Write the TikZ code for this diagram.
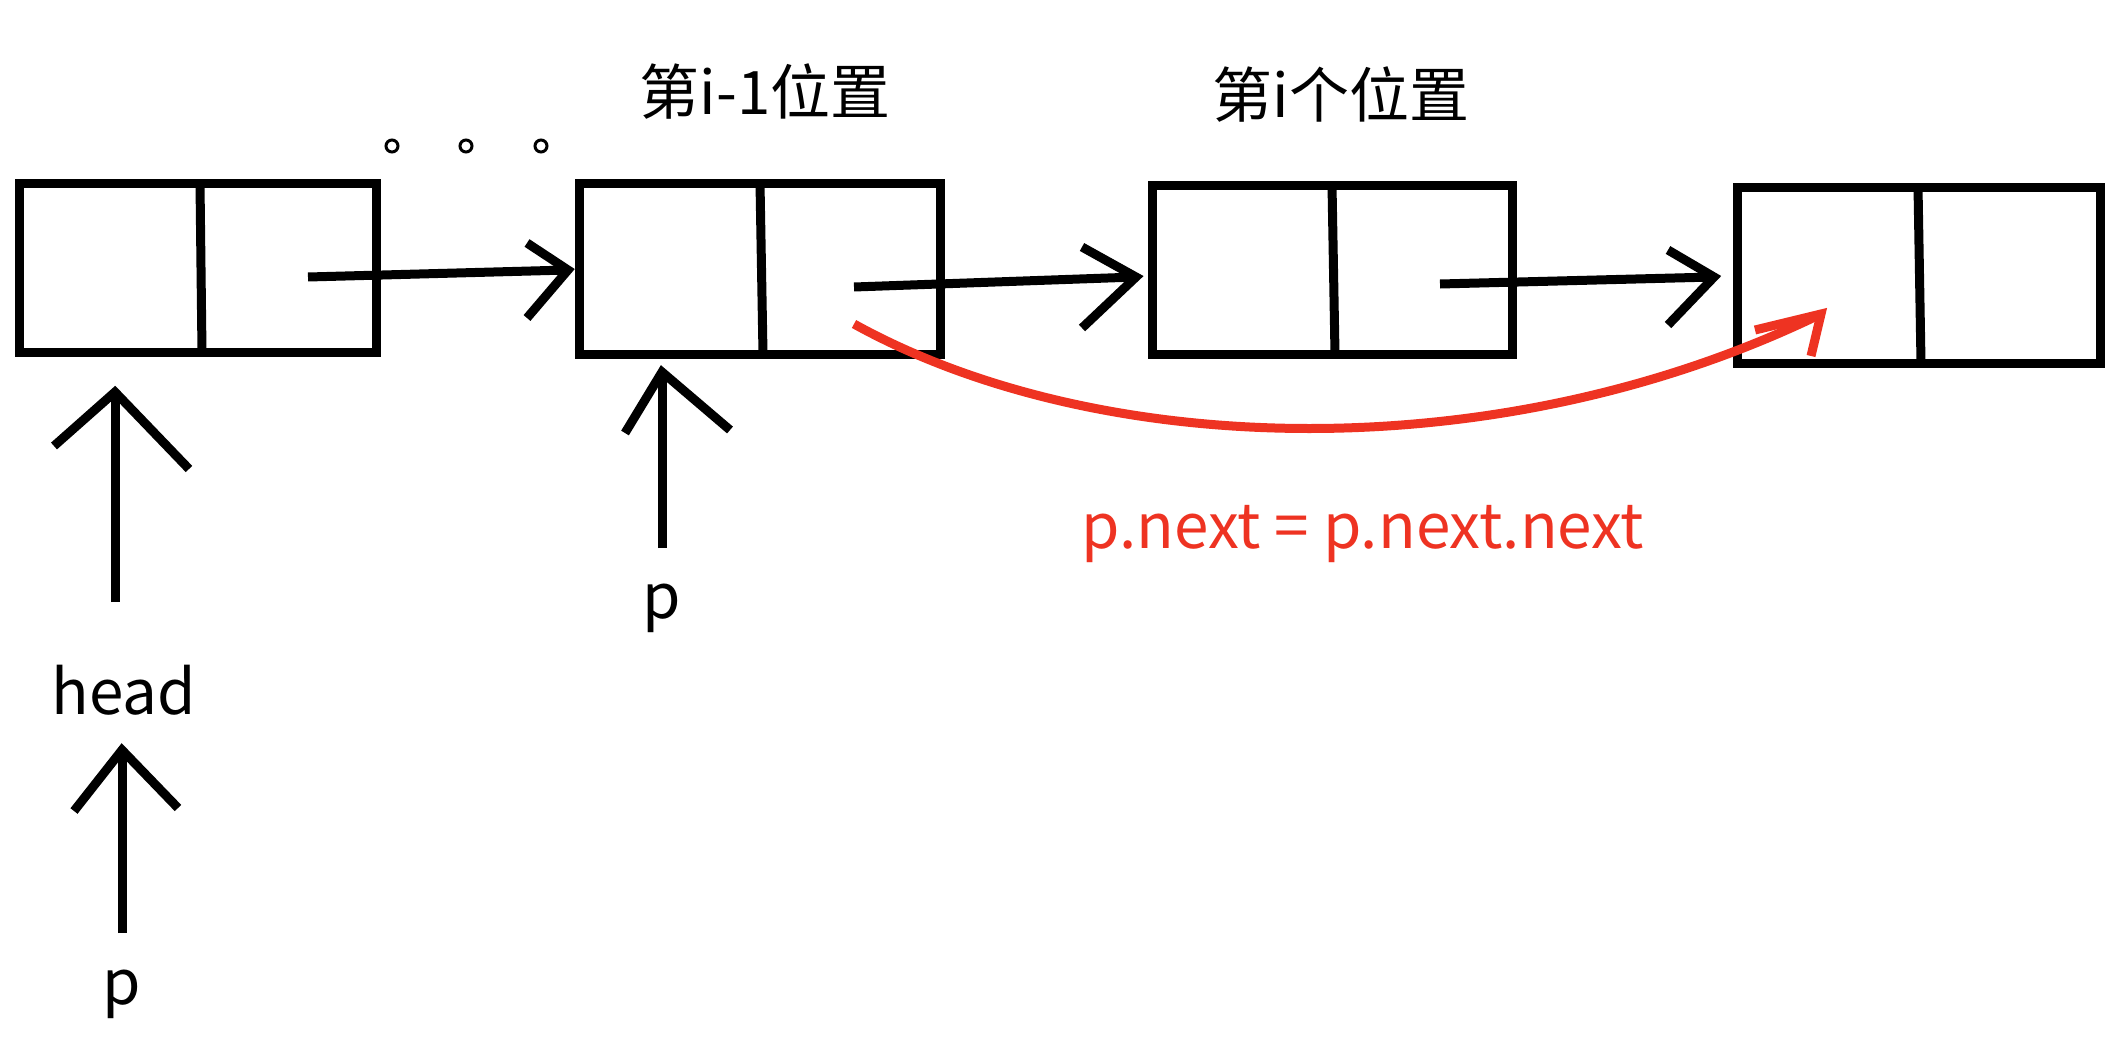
\documentclass[tikz,border=0pt]{standalone}
\usepackage{fontspec}
\setmainfont{Noto Sans CJK SC}
\definecolor{rd}{HTML}{EE3322}
\begin{document}
\begin{tikzpicture}[x=1pt,y=-1pt,line width=9pt,
  cell/.style={draw,line join=miter},
  lbl/.style={inner sep=0pt,font=\fontsize{62}{70}\selectfont},
  cjk/.style={inner sep=0pt,font=\fontsize{60}{70}\selectfont}]
\useasboundingbox (0,0) rectangle (2120,1046);
% boxes
\draw[cell] (19,183) rectangle (376,352); \draw (200,183)--(202,352);
\draw[cell] (579,183) rectangle (940,354); \draw (760,183)--(763,354);
\draw[cell] (1152,185) rectangle (1512,354); \draw (1332,185)--(1335,354);
\draw[cell] (1737,187) rectangle (2100,363); \draw (1918,187)--(1921,363);
\coordinate (a1s) at (308,277); \coordinate (a1e) at (568,270);
\coordinate (a2s) at (854,287); \coordinate (a2e) at (1136,277);
\coordinate (a3s) at (1440,284); \coordinate (a3e) at (1714,277);
\draw (a1s)--(a1e); \draw (527,243)--(a1e)--(527,318);
\draw (a2s)--(a2e); \draw (1082,247)--(a2e)--(1082,328);
\draw (a3s)--(a3e); \draw (1668,250)--(a3e)--(1668,325);
% red curve
\coordinate (rs) at (854,324); \coordinate (re) at (1821,314);
\draw[rd] (rs) .. controls (1100,460) and (1500,470) .. (re);
\draw[rd] (1755,330)--(re)--(1811,356);
% dots
\foreach \x in {392,466,541} \draw[line width=3pt] (\x,146) circle (6);
% labels
\node[cjk] (l1) at (765,92) {第i-1位置};
\node[cjk] (l2) at (1341,95) {第i个位置};
\node[lbl,text=rd] (code) at (1363,534) {p.next = p.next.next};
\node[lbl] (head) at (124,690) {head};
\node[lbl] (p1) at (122,994) {p};
\node[lbl] (p2) at (662,608) {p};
% up arrows
\draw (115,602)--(115,392); \draw (54,446)--(115,392)--(189,469);
\draw (122,933)--(122,750); \draw (74,811)--(122,750)--(178,808);
\draw (662,548)--(662,372); \draw (625,433)--(662,372)--(730,430);
\end{tikzpicture}
\end{document}
